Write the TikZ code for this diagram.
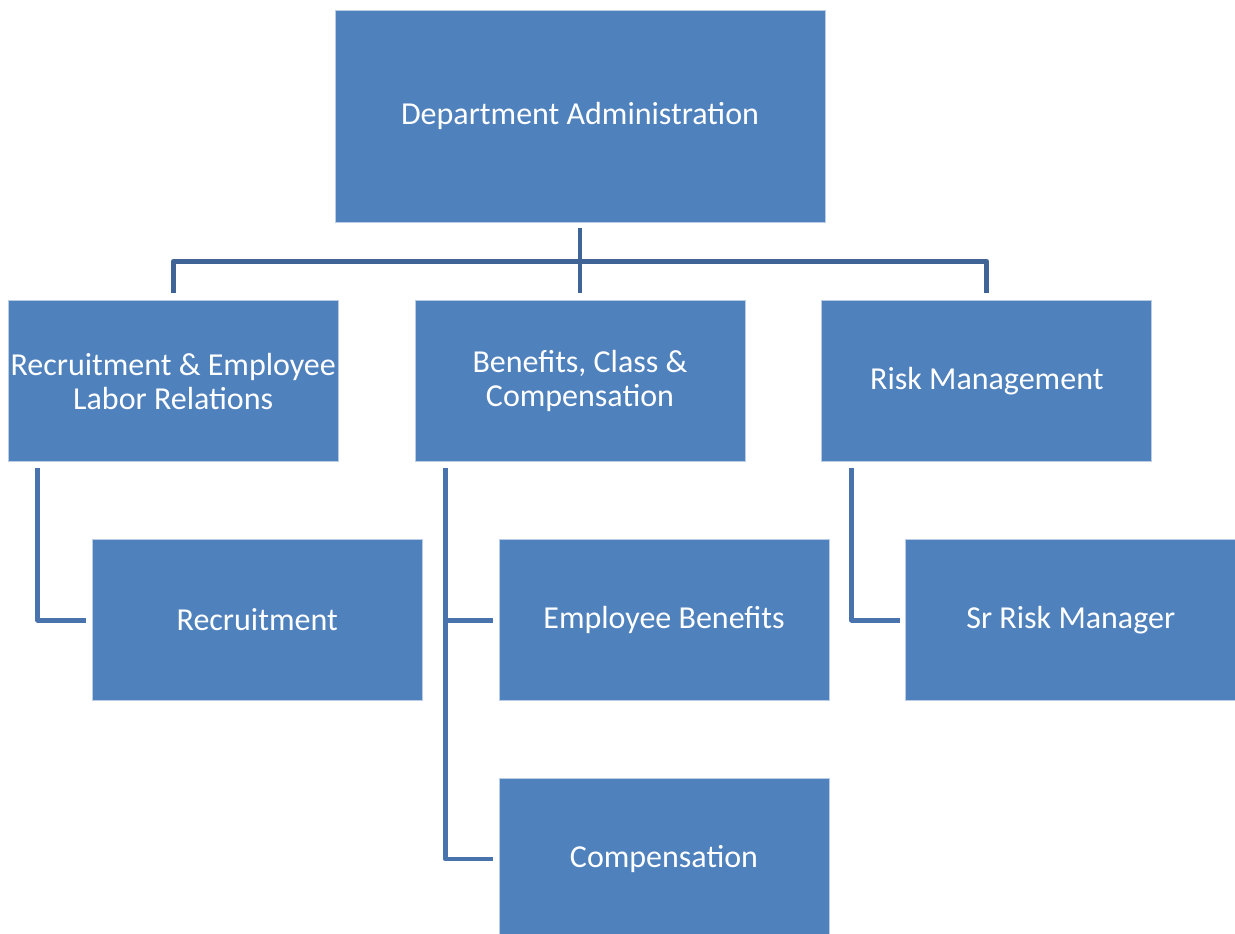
\documentclass[tikz,border=0pt]{standalone}
\usepackage{fontspec}
\setmainfont{Carlito}
\usepackage{xcolor}
\usepackage{tikz}
\usetikzlibrary{calc,positioning}
\definecolor{boxblue}{RGB}{79,129,189}
\definecolor{boxedge}{RGB}{185,205,229}
\definecolor{trunkblue}{RGB}{63,100,149}
\definecolor{branchblue}{RGB}{72,115,172}
\tikzset{
  unit/.style={rectangle,draw=boxedge,line width=0.6pt,fill=boxblue,
    text=white,align=center,inner xsep=0pt,
    minimum width=247.5pt,minimum height=120.75pt,
    font=\fontsize{24}{25.5}\selectfont},
  head/.style={unit,minimum width=367.5pt,minimum height=159pt},
  trunk/.style={draw=trunkblue,line width=3.5pt,line join=round},
  branch/.style={draw=branchblue,line width=3.6pt,line join=round}
}

\begin{document}
\begin{tikzpicture}[node distance=57.75pt and 57pt]
  \useasboundingbox (0,0) rectangle (926.25pt,-700.5pt);
  % top of the chart and the three divisions
  \node[head] (dept) at (435pt,-87pt) {Department Administration};
  \node[unit,below=58.5pt of dept] (benefits) {Benefits, Class \&\\Compensation};
  \node[unit,left=of benefits] (recruit) {Recruitment \& Employee\\Labor Relations};
  \node[unit,right=of benefits] (risk) {Risk Management};
  % units under each division
  \node[unit,below right=57.75pt and 63pt of recruit.south west] (recruitment) {Recruitment};
  \node[unit,below right=57.75pt and 63pt of benefits.south west] (empbenefits) {Employee Benefits};
  \node[unit,below=of empbenefits] (compensation) {Compensation};
  \node[unit,below right=57.75pt and 63pt of risk.south west] (srrisk) {Sr Risk Manager};

  \coordinate (bar) at ($(dept.south)!0.5!(benefits.north)$);
  \draw[trunk,shorten <=4.5pt,shorten >=5.25pt] (dept.south) -- (benefits.north);
  \draw[trunk] ([yshift=5.25pt]recruit.north) |- (bar) -| ([yshift=5.25pt]risk.north);

  \coordinate (rspine) at ([xshift=22.5pt,yshift=-4.5pt]recruit.south west);
  \coordinate (bspine) at ([xshift=23pt,yshift=-4.5pt]benefits.south west);
  \coordinate (kspine) at ([xshift=22.5pt,yshift=-4.5pt]risk.south west);
  \draw[branch] (rspine) |- ([xshift=-4pt]recruitment.west);
  \draw[branch] (bspine) |- ([xshift=-4pt]compensation.west);
  \draw[branch] (bspine |- empbenefits.west) -- ([xshift=-4pt]empbenefits.west);
  \draw[branch] (kspine) |- ([xshift=-4pt]srrisk.west);
\end{tikzpicture}
\end{document}
